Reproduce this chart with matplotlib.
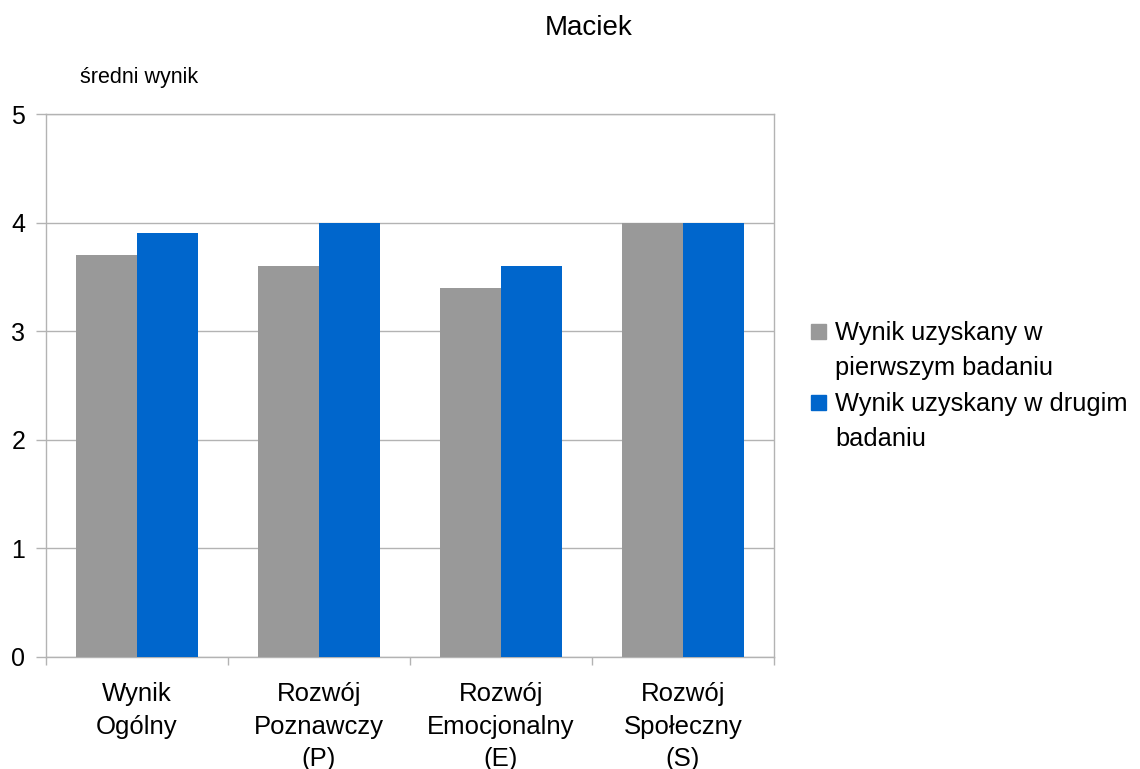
import matplotlib
matplotlib.use("Agg")
import matplotlib.pyplot as plt
from matplotlib.patches import Rectangle
import numpy as np

plt.rcParams['font.family'] = ['Liberation Sans', 'DejaVu Sans']

categories = ["Wynik\nOgólny", "Rozwój\nPoznawczy\n(P)", "Rozwój\nEmocjonalny\n(E)", "Rozwój\nSpołeczny\n(S)"]
first_study = [3.7, 3.6, 3.4, 4.0]
second_study = [3.9, 4.0, 3.6, 4.0]
series_labels = ["Wynik uzyskany w\npierwszym badaniu", "Wynik uzyskany w drugim\nbadaniu"]
series_colors = ["#999999", "#0066cc"]
y_ticks = [0, 1, 2, 3, 4, 5]

grid_color = "#b3b3b3"

fig = plt.figure(figsize=(11.4, 7.69), dpi=100)
ax = fig.add_axes([46 / 1140, 1 - 657 / 769, (774 - 46) / 1140, (657 - 114) / 769])

x = np.arange(len(categories))
w = 0.335
ax.bar(x - w / 2, first_study, width=w, color=series_colors[0], zorder=3)
ax.bar(x + w / 2, second_study, width=w, color=series_colors[1], zorder=3)

ax.set_xlim(-0.5, len(categories) - 0.5)
ax.set_ylim(0, 5)
ax.set_yticks(y_ticks)
ax.set_yticklabels([str(t) for t in y_ticks], fontsize=18)
ax.yaxis.grid(True, color=grid_color, linewidth=1, zorder=0)
ax.tick_params(axis='y', length=7, width=1, color=grid_color, pad=8)

ax.set_xticks(x)
ax.set_xticklabels(categories, fontsize=18.5, linespacing=1.45)
ax.set_xticks(np.arange(len(categories) + 1) - 0.5, minor=True)
ax.tick_params(axis='x', which='major', length=0, pad=18)
ax.tick_params(axis='x', which='minor', length=6, width=1, color=grid_color)

for s in ax.spines.values():
    s.set_color(grid_color)
    s.set_linewidth(1)

fig.text(589 / 1140, 1 - 28 / 769, "Maciek", fontsize=20, ha='center', va='center')
fig.text(80 / 1140, 1 - 78 / 769, "średni wynik", fontsize=15.5, ha='left', va='center')

# legend drawn by hand so each square sits beside the first line of its label
square_centers = [331, 402]
for label, color, yc in zip(series_labels, series_colors, square_centers):
    fig.patches.append(Rectangle((811 / 1140, 1 - (yc + 8) / 769), 15 / 1140, 15 / 769,
                                 transform=fig.transFigure, color=color))
    fig.text(835 / 1140, 1 - (yc + 44) / 769, label, fontsize=18.3, ha='left', va='baseline',
             linespacing=1.6)

fig.savefig("out.png", dpi=100)
